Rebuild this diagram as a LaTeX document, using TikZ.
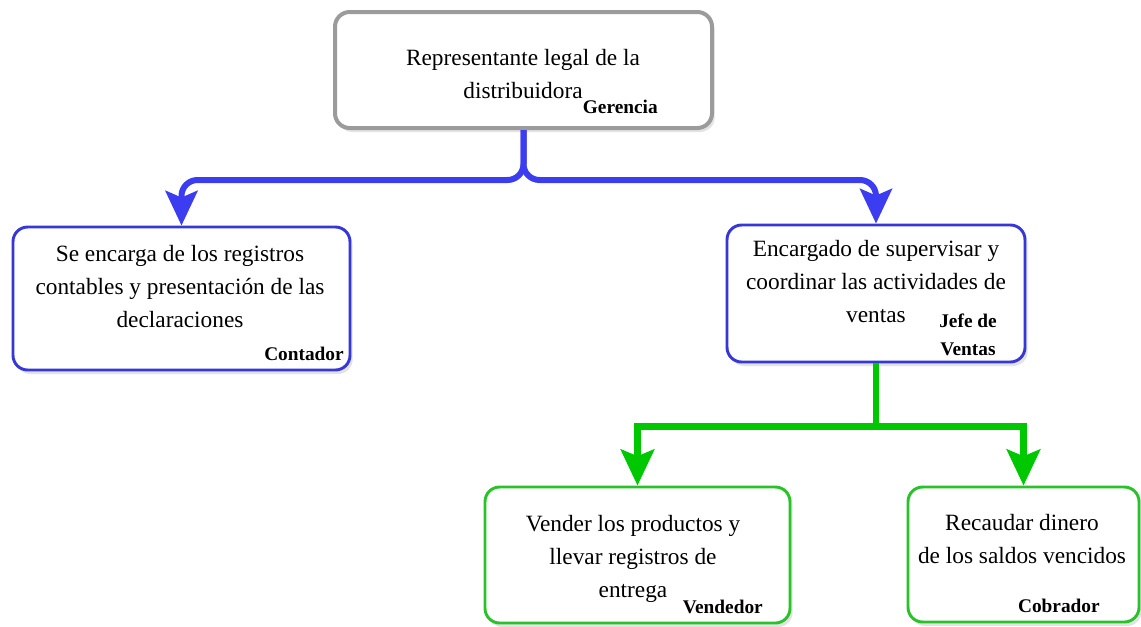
\documentclass[tikz,border=0pt]{standalone}
\usepackage{fontspec}
\setmainfont{Liberation Serif}
\usetikzlibrary{arrows.meta,shadows}
\definecolor{boxgray}{RGB}{155,155,155}
\definecolor{boxblue}{RGB}{55,55,215}
\definecolor{lineblue}{RGB}{60,60,240}
\definecolor{boxgreen}{RGB}{40,195,40}
\definecolor{linegreen}{RGB}{0,200,0}
\tikzset{
  box/.style={rectangle, rounded corners=11pt, line width=2.2pt, fill=white,
    drop shadow={shadow xshift=2pt, shadow yshift=-3pt, fill=black!22}},
  txt/.style={inner sep=0pt, align=center, font=\fontsize{17.5}{24.5}\selectfont},
  tag/.style={inner sep=0pt, align=center, font=\fontsize{14.5}{21}\selectfont\bfseries},
  bconn/.style={line width=4.5pt, draw=lineblue, rounded corners=12pt,
    -{Stealth[length=26pt, width=24pt, inset=5pt]}},
  gconn/.style={line width=5pt, draw=linegreen,
    -{Stealth[length=27pt, width=25pt, inset=5pt]}}
}
\begin{document}
\begin{tikzpicture}[x=0.75pt, y=-0.75pt]
  \useasboundingbox (0,0) rectangle (1141,626);

  % Draw the boxes
  \node[box, draw=boxgray, line width=3pt, minimum width=282.75pt, minimum height=87pt] (Gerencia) at (523.5,70) {};
  \node[box, draw=boxblue, minimum width=252.75pt, minimum height=107.25pt] (Contador) at (181.5,298.5) {};
  \node[box, draw=boxblue, minimum width=223.5pt, minimum height=102.75pt] (JefeVentas) at (876,293.5) {};
  \node[box, draw=boxgreen, minimum width=228.75pt, minimum height=102pt] (Vendedor) at (637.5,555) {};
  \node[box, draw=boxgreen, minimum width=173.25pt, minimum height=101.25pt] (Cobrador) at (1023.5,554.5) {};

  % Texts in the boxes (base = last line)
  \node[txt, anchor=base] (gerTxt) at (523,98) {Representante legal de la\\distribuidora};
  \node[txt, anchor=base] (conTxt) at (180,327) {Se encarga de los registros\\contables y presentación de las\\declaraciones};
  \node[txt, anchor=base] (jefTxt) at (876,322) {Encargado de supervisar y\\coordinar las actividades de\\ventas};
  \node[txt, anchor=base] (venTxt) at (633,597) {Vender los productos y\\llevar registros de\\entrega};
  \node[txt, anchor=base] (cobTxt) at (1022,563) {Recaudar dinero\\de los saldos vencidos};

  % Role names
  \node[tag, anchor=base east] (gerTag) at (658,113) {Gerencia};
  \node[tag, anchor=base east] (conTag) at (344,360) {Contador};
  \node[tag, anchor=base east] (jefTag) at (997,355) {Jefe de\\Ventas};
  \node[tag, anchor=base east] (venTag) at (763,613) {Vendedor};
  \node[tag, anchor=base east] (cobTag) at (1100,612) {Cobrador};

  % Connectors
  \draw[bconn] (Gerencia.south) -- ++(0,50) -| (Contador.north);
  \draw[bconn] (Gerencia.south) -- ++(0,50) -| (JefeVentas.north);
  \draw[gconn] (JefeVentas.south) -- ++(0,63) -| (Vendedor.north);
  \draw[gconn] (JefeVentas.south) -- ++(0,63) -| (Cobrador.north);
\end{tikzpicture}
\end{document}
